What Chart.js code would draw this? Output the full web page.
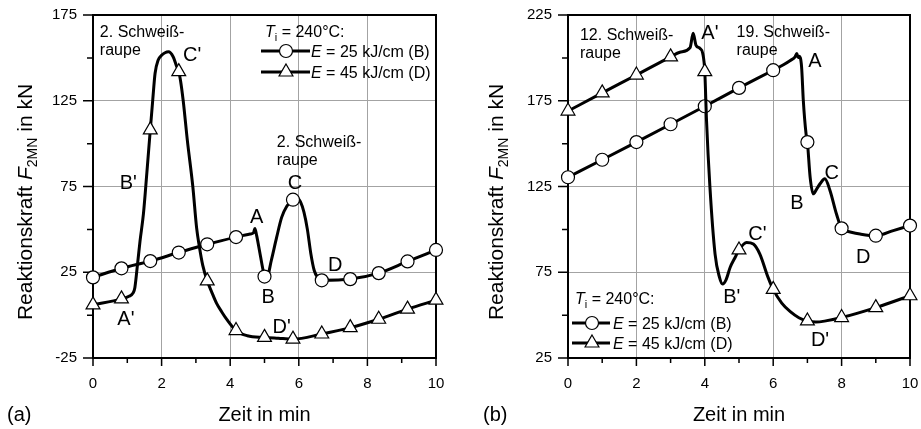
<!DOCTYPE html>
<html>
<head>
<meta charset="utf-8">
<script src="https://cdn.jsdelivr.net/npm/chart.js@4"></script>
<style>
  html, body { margin: 0; padding: 0; background: #fff; }
  #wrap { position: relative; width: 921px; height: 429px; }
  .panel { position: absolute; top: 0; height: 429px; }
  #pa { left: 0; width: 460px; }
  #pb { left: 460px; width: 461px; }
</style>
</head>
<body>
<div id="wrap">
  <div class="panel" id="pa"><canvas id="chartA"></canvas></div>
  <div class="panel" id="pb"><canvas id="chartB"></canvas></div>
</div>
<script>
// --- Daten Teilbild (a): 2. Schweißraupe ---
const aZeitB  = [0, 0.83, 1.67, 2.5, 3.33, 4.17, 4.58, 4.68, 4.72, 4.77, 4.85, 4.95, 5.0, 5.05, 5.2, 5.35, 5.5, 5.65, 5.83, 5.95, 6.05, 6.15, 6.25, 6.35, 6.45, 6.55, 6.67, 7.5, 8.33, 9.17, 10];
const aKraftB = [22, 27.3, 31.5, 36.5, 41.3, 45.5, 47.3, 48, 50.5, 46.5, 38, 27, 22.5, 20.5, 32, 45, 57, 63.5, 67.3, 68.3, 66, 60, 50, 36, 26, 22, 20.3, 21, 24.5, 31.3, 38];
const aMarkenB = [0, 0.83, 1.67, 2.5, 3.33, 4.17, 5.0, 5.83, 6.67, 7.5, 8.33, 9.17, 10];

const aZeitD  = [0, 0.83, 1.05, 1.17, 1.22, 1.3, 1.37, 1.47, 1.57, 1.67, 1.74, 1.81, 1.9, 2.0, 2.1, 2.2, 2.34, 2.44, 2.5, 2.55, 2.63, 2.75, 2.91, 3.02, 3.1, 3.2, 3.33, 3.45, 3.6, 3.75, 3.9, 4.17, 4.5, 5.0, 5.4, 5.83, 6.67, 7.5, 8.33, 9.17, 10];
const aKraftD = [6, 9.5, 11, 13, 16, 30, 43, 59, 83, 108, 125, 141, 148.7, 151.5, 153, 153.5, 150.5, 145, 142, 137, 125, 102, 75, 51, 40, 29, 20, 14, 7, 2, -2.5, -9, -12, -13, -13.5, -14, -11, -7.3, -2.4, 3.5, 8.7];
const aMarkenD = [0, 0.83, 1.67, 2.5, 3.33, 4.17, 5.0, 5.83, 6.67, 7.5, 8.33, 9.17, 10];

// --- Daten Teilbild (b): 12. / 19. Schweißraupe ---
const bZeitB  = [0, 1, 2, 3, 4, 5, 6, 6.3, 6.5, 6.64, 6.69, 6.73, 6.76, 6.83, 6.88, 6.96, 7.0, 7.08, 7.17, 7.27, 7.37, 7.51, 7.66, 7.85, 8.0, 8.25, 8.54, 9.0, 9.51, 10];
const bKraftB = [130.4, 140.6, 150.9, 161.3, 171.8, 182.5, 192.8, 196, 198.5, 200.6, 202.6, 200.2, 201, 194.8, 175.3, 155.8, 150.9, 130.4, 120.7, 123.5, 126.6, 129.5, 122.7, 109, 100.6, 98.5, 97.3, 96.3, 99.3, 102.2];
const bMarkenB = [0, 1, 2, 3, 4, 5, 6, 7.0, 8.0, 9.0, 10];

const bZeitD  = [0, 1, 2, 3, 3.27, 3.57, 3.66, 3.74, 3.86, 3.94, 4.0, 4.05, 4.15, 4.3, 4.43, 4.52, 4.62, 4.74, 4.87, 5.0, 5.22, 5.42, 5.61, 5.85, 6.0, 6.25, 6.5, 6.75, 7.0, 7.25, 7.5, 8.0, 9.0, 10];
const bKraftD = [169, 179.6, 190, 200.6, 203.3, 206, 214.3, 207.5, 205.5, 202.6, 192, 163.6, 124.6, 85.6, 72, 68.1, 70.5, 77.8, 83, 88, 92.4, 91.5, 85.6, 72, 65, 57, 52, 48.5, 46.6, 46, 46.5, 48.6, 54.4, 61.3];
const bMarkenD = [0, 1, 2, 3, 4.0, 5.0, 6.0, 7.0, 8.0, 9.0, 10];

// Achsbeschriftungen
const xTickLabels = [0, 2, 4, 6, 8, 10];
const aYTickLabels = [-25, 25, 75, 125, 175];
const bYTickLabels = [25, 75, 125, 175, 225];

const FONT = '"Liberation Sans", Arial, Helvetica, sans-serif';
const GRID = '#a3a3a3';
const R_KREIS = 6.5;
const R_DREIECK = 8;

function pts(xs, ys) {
  return xs.map((x, i) => ({ x: x, y: ys[i] }));
}

function serie(xs, ys, marken, style, r) {
  return {
    data: pts(xs, ys),
    borderColor: '#000',
    borderWidth: 3,
    cubicInterpolationMode: 'monotone',
    pointStyle: style,
    pointRadius: c => (c.raw && marken.includes(c.raw.x)) ? r : 0,
    pointBackgroundColor: '#fff',
    pointBorderColor: '#000',
    pointBorderWidth: 1.2,
    clip: false
  };
}

function marker(ctx, style, x, y, r) {
  ctx.beginPath();
  if (style === 'circle') {
    ctx.arc(x, y, r, 0, Math.PI * 2);
  } else {
    let a = 0;
    ctx.moveTo(x + Math.sin(a) * r, y - Math.cos(a) * r);
    a += Math.PI * 2 / 3;
    ctx.lineTo(x + Math.sin(a) * r, y - Math.cos(a) * r);
    a += Math.PI * 2 / 3;
    ctx.lineTo(x + Math.sin(a) * r, y - Math.cos(a) * r);
    ctx.closePath();
  }
  ctx.fillStyle = '#fff';
  ctx.fill();
  ctx.lineWidth = 1.2;
  ctx.strokeStyle = '#000';
  ctx.stroke();
}

// Text aus mehreren Teilen (kursiv, Index)
function rich(ctx, parts, x, y, align) {
  const fonts = parts.map(p => (p.it ? 'italic ' : '') + p.size + 'px ' + FONT);
  let w = 0;
  parts.forEach((p, i) => { ctx.font = fonts[i]; w += ctx.measureText(p.t).width; });
  let cx = align === 'center' ? x - w / 2 : x;
  ctx.textAlign = 'left';
  ctx.textBaseline = 'alphabetic';
  ctx.fillStyle = '#000';
  parts.forEach((p, i) => {
    ctx.font = fonts[i];
    ctx.fillText(p.t, cx, y + (p.dy || 0));
    cx += ctx.measureText(p.t).width;
  });
}

const yTitel = [
  { t: 'Reaktionskraft ', size: 21 },
  { t: 'F', size: 21, it: true },
  { t: '2MN', size: 14, dy: 5 },
  { t: ' in kN', size: 21 }
];
const legTitel = [
  { t: 'T', size: 16, it: true },
  { t: 'i', size: 11, dy: 4 },
  { t: ' = 240°C:', size: 16 }
];
const legZeilen = [
  { style: 'circle', r: R_KREIS, parts: [{ t: 'E', size: 16, it: true }, { t: ' = 25 kJ/cm (B)', size: 16 }] },
  { style: 'triangle', r: R_DREIECK, parts: [{ t: 'E', size: 16, it: true }, { t: ' = 45 kJ/cm (D)', size: 16 }] }
];

const deko = {
  chartA: {
    tag: '(a)', tagX: 7, yTitelX: 32,
    legende: { tx: 265, ty: 37, rows: [51, 72], l0: 261, l1: 310, mx: 286, textX: 311 },
    notizen: [
      { x: 0.2, y: 162.3, lines: ['2. Schweiß-', 'raupe'] },
      { x: 5.36, y: 98, lines: ['2. Schweiß-', 'raupe'] }
    ],
    punkte: [
      { t: "C'", x: 2.89, y: 151.6 }, { t: 'C', x: 5.89, y: 76.8 },
      { t: 'A', x: 4.77, y: 57 }, { t: 'B', x: 5.11, y: 10.3 },
      { t: 'D', x: 7.06, y: 28.8 }, { t: "B'", x: 1.03, y: 76.6 },
      { t: "A'", x: 0.96, y: -2.4 }, { t: "D'", x: 5.5, y: -7.3 }
    ]
  },
  chartB: {
    tag: '(b)', tagX: 23, yTitelX: 43,
    legende: { tx: 115, ty: 304, rows: [323, 343], l0: 112, l1: 150, mx: 132, textX: 153 },
    notizen: [
      { x: 0.35, y: 210.4, lines: ['12. Schweiß-', 'raupe'] },
      { x: 4.93, y: 212.3, lines: ['19. Schweiß-', 'raupe'] }
    ],
    punkte: [
      { t: "A'", x: 4.15, y: 214.3 }, { t: 'A', x: 7.22, y: 197.7 },
      { t: 'C', x: 7.71, y: 132.8 }, { t: 'B', x: 6.69, y: 114.9 },
      { t: 'D', x: 8.63, y: 83.7 }, { t: "C'", x: 5.54, y: 97.3 },
      { t: "B'", x: 4.79, y: 60.3 }, { t: "D'", x: 7.37, y: 35 }
    ]
  }
};

const dekoPlugin = {
  id: 'deko',
  beforeDatasetsDraw(chart) {
    const { ctx, chartArea: ca, scales } = chart;
    const yLabels = chart.canvas.id === 'chartA' ? aYTickLabels : bYTickLabels;
    ctx.save();
    ctx.strokeStyle = '#000';
    ctx.lineWidth = 2;
    ctx.strokeRect(ca.left, ca.top, ca.right - ca.left, ca.bottom - ca.top);
    ctx.lineWidth = 1.5;
    ctx.beginPath();
    scales.x.ticks.forEach(t => {
      const px = scales.x.getPixelForValue(t.value);
      const len = xTickLabels.includes(t.value) ? 8 : 5;
      ctx.moveTo(px, ca.bottom);
      ctx.lineTo(px, ca.bottom + len);
    });
    scales.y.ticks.forEach(t => {
      const py = scales.y.getPixelForValue(t.value);
      const len = yLabels.includes(t.value) ? 10 : 6;
      ctx.moveTo(ca.left, py);
      ctx.lineTo(ca.left - len, py);
    });
    ctx.stroke();
    ctx.restore();
  },
  afterDatasetsDraw(chart) {
    const { ctx, chartArea: ca, scales } = chart;
    const d = deko[chart.canvas.id];
    const x = scales.x, y = scales.y;
    ctx.save();
    ctx.fillStyle = '#000';

    // Notizen
    ctx.font = '16px ' + FONT;
    ctx.textAlign = 'left';
    ctx.textBaseline = 'alphabetic';
    d.notizen.forEach(n => {
      const px = x.getPixelForValue(n.x), py = y.getPixelForValue(n.y);
      n.lines.forEach((l, i) => ctx.fillText(l, px, py + i * 18));
    });

    // Kennbuchstaben
    ctx.font = '20px ' + FONT;
    ctx.textAlign = 'center';
    ctx.textBaseline = 'middle';
    d.punkte.forEach(p => ctx.fillText(p.t, x.getPixelForValue(p.x), y.getPixelForValue(p.y)));

    // Legende
    const L = d.legende;
    rich(ctx, legTitel, L.tx, L.ty, 'left');
    legZeilen.forEach((z, i) => {
      const ry = L.rows[i];
      ctx.strokeStyle = '#000';
      ctx.lineWidth = 3;
      ctx.beginPath();
      ctx.moveTo(L.l0, ry);
      ctx.lineTo(L.l1, ry);
      ctx.stroke();
      marker(ctx, z.style, L.mx, ry, z.r);
      rich(ctx, z.parts, L.textX, ry + 6, 'left');
    });

    // Achsentitel
    ctx.font = '20px ' + FONT;
    ctx.textAlign = 'center';
    ctx.textBaseline = 'middle';
    ctx.fillStyle = '#000';
    ctx.fillText('Zeit in min', (ca.left + ca.right) / 2, 415);
    ctx.textAlign = 'left';
    ctx.fillText(d.tag, d.tagX, 415);

    ctx.save();
    ctx.translate(d.yTitelX, 202);
    ctx.rotate(-Math.PI / 2);
    rich(ctx, yTitel, 0, 0, 'center');
    ctx.restore();

    ctx.restore();
  }
};

function makeChart(id, o) {
  return new Chart(document.getElementById(id), {
    type: 'line',
    data: {
      datasets: [
        serie(o.zeitD, o.kraftD, o.markenD, 'triangle', R_DREIECK),
        serie(o.zeitB, o.kraftB, o.markenB, 'circle', R_KREIS)
      ]
    },
    options: {
      responsive: true,
      maintainAspectRatio: false,
      animation: false,
      events: [],
      layout: { padding: { top: 15, right: o.padRight, left: 0, bottom: 0 } },
      plugins: { legend: { display: false }, tooltip: { enabled: false } },
      scales: {
        x: {
          type: 'linear', min: 0, max: 10,
          afterFit: s => { s.height = 71; s.paddingLeft = 0; s.paddingRight = 0; },
          ticks: {
            stepSize: 1, autoSkip: false, maxRotation: 0, padding: 17, color: '#000',
            font: { family: FONT, size: 15 },
            callback: v => xTickLabels.includes(v) ? String(v) : ''
          },
          grid: { drawTicks: false, lineWidth: 1, color: c => (c.tick && xTickLabels.includes(c.tick.value)) ? GRID : 'rgba(0,0,0,0)' },
          border: { color: '#000', width: 2 }
        },
        y: {
          type: 'linear', min: o.yMin, max: o.yMax,
          afterFit: s => { s.width = o.yWidth; s.paddingTop = 0; s.paddingBottom = 0; },
          ticks: {
            stepSize: 25, autoSkip: false, padding: 16, color: '#000',
            font: { family: FONT, size: 15 },
            callback: v => o.yTicks.includes(v) ? String(v) : ''
          },
          grid: { drawTicks: false, lineWidth: 1, color: c => (c.tick && o.yTicks.includes(c.tick.value)) ? GRID : 'rgba(0,0,0,0)' },
          border: { color: '#000', width: 2 }
        }
      }
    },
    plugins: [dekoPlugin]
  });
}

makeChart('chartA', {
  zeitB: aZeitB, kraftB: aKraftB, markenB: aMarkenB,
  zeitD: aZeitD, kraftD: aKraftD, markenD: aMarkenD,
  yMin: -25, yMax: 175, yTicks: aYTickLabels, yWidth: 93, padRight: 24
});
makeChart('chartB', {
  zeitB: bZeitB, kraftB: bKraftB, markenB: bMarkenB,
  zeitD: bZeitD, kraftD: bKraftD, markenD: bMarkenD,
  yMin: 25, yMax: 225, yTicks: bYTickLabels, yWidth: 108, padRight: 11
});
</script>
</body>
</html>
